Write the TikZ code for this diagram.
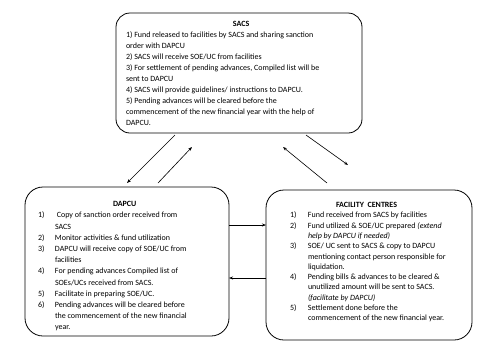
\documentclass[tikz,border=0pt]{standalone}
\usepackage{fontspec}
\setmainfont{Carlito}
\usepackage{array}
\usetikzlibrary{arrows.meta}

\begin{document}
\begin{tikzpicture}[x=1pt, y=1pt, outer sep=0pt,
        box/.style={draw, line width=0.8pt, rectangle, rounded corners=#1, anchor=north west},
        txt/.style={inner sep=0pt, anchor=north west, align=left},
        arr/.style={-{Stealth[length=4pt, width=3pt]}, line width=0.6pt}]
        \useasboundingbox (0,0) rectangle (480,-360);

        \node (sacs) [box=14pt, minimum width=246pt, minimum height=120pt] at (116,-13) {};
        \node (dapcu) [box=18pt, minimum width=204pt, minimum height=149pt] at (25,-187) {};
        \node (facility) [box=18pt, minimum width=206pt, minimum height=150pt] at (266,-190) {};

        \node (sacslist) [txt, font=\fontsize{8}{11}\selectfont] at ([shift={(10,-5.8)}]sacs.north west) {
            \begin{tabular}{@{}l@{}}
                \hspace{107pt}\textbf{SACS} \\
                1) Fund released to facilities by SACS and sharing sanction \\
                order with DAPCU \\
                2) SACS will receive SOE/UC from facilities \\
                3) For settlement of pending advances, Compiled list will be \\
                sent to DAPCU \\
                4) SACS will provide guidelines/ instructions to DAPCU. \\
                5) Pending advances will be cleared before the \\
                commencement of the new financial year with the help of \\
                DAPCU.
            \end{tabular}
        };

        \node (dapculist) [txt, font=\fontsize{8}{11.2}\selectfont] at ([shift={(13,-11.8)}]dapcu.north west) {
            \begin{tabular}{@{}p{17pt}@{}l@{}}
                \multicolumn{2}{@{}l@{}}{\hspace{75pt}\textbf{DAPCU}} \\
                1) & \ Copy of sanction order received from \\
                   & SACS \\
                2) & Monitor activities \& fund utilization \\
                3) & DAPCU will receive copy of SOE/UC from \\
                   & facilities \\
                4) & For pending advances Compiled list of \\
                   & SOEs/UCs received from SACS. \\
                5) & Facilitate in preparing SOE/UC. \\
                6) & Pending advances will be cleared before \\
                   & the commencement of the new financial \\
                   & year.
            \end{tabular}
        };

        \node (facilitylist) [txt, font=\fontsize{8}{10.3}\selectfont] at ([shift={(24,-10.3)}]facility.north west) {
            \begin{tabular}{@{}p{18pt}@{}l@{}}
                \multicolumn{2}{@{}l@{}}{\hspace{46pt}\textbf{FACILITY\ \ CENTRES}} \\
                1) & Fund received from SACS by facilities \\
                2) & Fund utilized \& SOE/UC prepared \textit{(extend} \\
                   & \textit{help by DAPCU if needed)} \\
                3) & SOE/ UC sent to SACS \& copy to DAPCU \\
                   & mentioning contact person responsible for \\
                   & liquidation. \\
                4) & Pending bills \& advances to be cleared \& \\
                   & unutilized amount will be sent to SACS. \\
                   & \textit{(facilitate by DAPCU)} \\
                5) & Settlement done before the \\
                   & commencement of the new financial year.
            \end{tabular}
        };

        % links between the boxes
        \draw[arr] ([shift={(59,-2)}]sacs.south west) -- ([shift={(102,4)}]dapcu.north west);
        \draw[arr] ([shift={(133,4)}]dapcu.north west) -- ([shift={(76,-14)}]sacs.south west);
        \draw[arr] ([shift={(190,-2)}]sacs.south west) -- ([shift={(82,25)}]facility.north west);
        \draw[arr] ([shift={(61,7)}]facility.north west) -- ([shift={(167,-14)}]sacs.south west);

        \coordinate (hi) at ([yshift=-38pt]dapcu.north east);
        \coordinate (lo) at ([yshift=-91pt]dapcu.north east);
        \draw[arr] (hi) -- (hi -| facility.west);
        \draw[arr] (lo -| facility.west) -- (lo);
    \end{tikzpicture}
\end{document}
